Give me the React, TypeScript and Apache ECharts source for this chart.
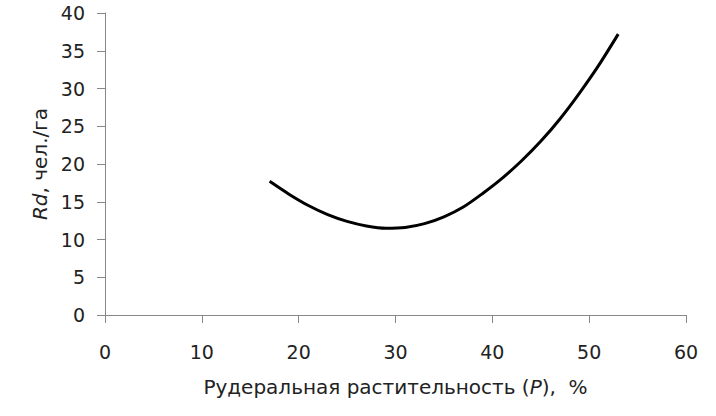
import React, { useEffect, useRef } from "react";
import * as echarts from "echarts";

const xValues = [17, 19, 21, 23, 25, 27, 29, 31, 33, 35, 37, 39, 41, 43, 45, 47, 49, 51, 53];
const yValues = [17.7, 16.0, 14.5, 13.3, 12.4, 11.8, 11.5, 11.6, 12.1, 13.0, 14.3, 16.1, 18.1, 20.4, 23.0, 26.0, 29.4, 33.1, 37.2];
const xTicks = { min: 0, max: 60, interval: 10 };
const yTicks = { min: 0, max: 40, interval: 5 };

export default function App() {
  const ref = useRef<HTMLDivElement>(null);
  useEffect(() => {
    if (!ref.current) return;
    const chart = echarts.init(ref.current, null, { renderer: "svg" });
    const font = "'DejaVu Sans', Verdana, sans-serif";
    const rich = {
      n: { fontFamily: font, fontSize: 20, color: "#222" },
      i: { fontFamily: font, fontSize: 20, color: "#222", fontStyle: "italic" },
    };
    chart.setOption({
      animation: false,
      backgroundColor: "#ffffff",
      grid: { left: 105, right: 30, top: 13, bottom: 101 },
      xAxis: {
        type: "value",
        ...xTicks,
        name: "{n|Рудеральная растительность (}{i|P}{n|),  %}",
        nameLocation: "middle",
        nameGap: 62,
        nameTextStyle: { rich },
        axisLine: { show: true, lineStyle: { color: "#888", width: 1 } },
        axisTick: { show: true, length: 8, lineStyle: { color: "#888" } },
        axisLabel: { fontFamily: font, fontSize: 19, color: "#222", margin: 27 },
        splitLine: { show: false },
      },
      yAxis: {
        type: "value",
        ...yTicks,
        name: "{i|Rd}{n|, чел./га}",
        nameLocation: "middle",
        nameGap: 55,
        nameTextStyle: { rich },
        axisLine: { show: true, lineStyle: { color: "#888", width: 1 } },
        axisTick: { show: true, length: 8, lineStyle: { color: "#888" } },
        axisLabel: { fontFamily: font, fontSize: 19, color: "#222", margin: 20 },
        splitLine: { show: false },
      },
      series: [
        {
          type: "line",
          data: xValues.map((x, i) => [x, yValues[i]]),
          smooth: 0.3,
          showSymbol: false,
          lineStyle: { color: "#000", width: 3 },
        },
      ],
    });
    return () => chart.dispose();
  }, []);
  return (
    <div
      ref={ref}
      style={{ position: "absolute", left: 0, top: 0, width: 716, height: 416 }}
    />
  );
}
